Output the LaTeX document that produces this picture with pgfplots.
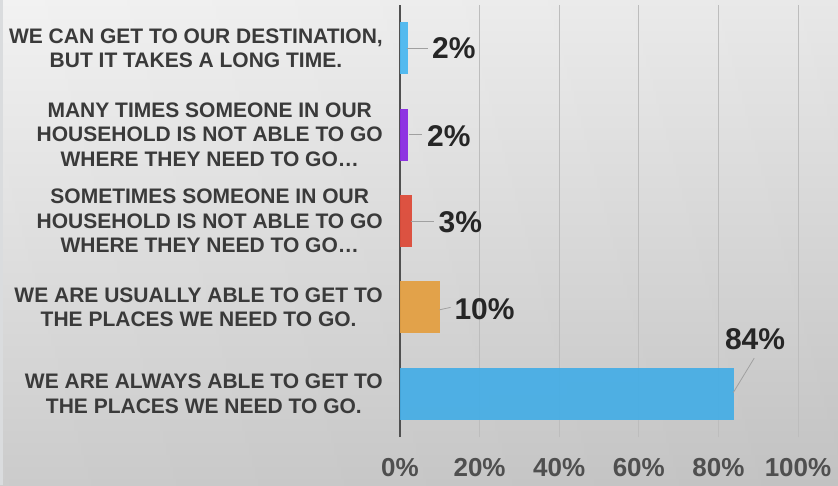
\documentclass[border=0pt]{standalone}
\usepackage{pgfplots}
\pgfplotsset{compat=1.18}
\usepackage{fontspec}
\setmainfont{Liberation Sans}
\definecolor{bgtop}{HTML}{F2F2F2}
\definecolor{bgbot}{HTML}{CACACA}
\definecolor{stripc}{HTML}{DADCDE}
\definecolor{gridc}{HTML}{BDBDBD}
\definecolor{axisc}{HTML}{505050}
\definecolor{catc}{HTML}{3A3A3A}
\definecolor{valc}{HTML}{262626}
\definecolor{tickc}{HTML}{4F4F4F}
\definecolor{leadc}{HTML}{A0A0A0}
\definecolor{cblue}{HTML}{44ADE6}
\definecolor{cblue2}{HTML}{4CB8F0}
\definecolor{corange}{HTML}{E3A043}
\definecolor{cred}{HTML}{DD4B39}
\definecolor{cpurple}{HTML}{8A2BE2}
\begin{document}
\begin{tikzpicture}
\useasboundingbox (0,0) rectangle (838pt,485pt);
\shade[top color=bgtop, bottom color=bgbot] (0,0) rectangle (838pt,485pt);
\shade[left color=white, right color=black, fill opacity=0.04] (0,0) rectangle (838pt,485pt);
\fill[stripc] (0,0) rectangle (3pt,485pt);
\begin{axis}[
  at={(400pt,48pt)}, anchor=south west,
  scale only axis, width=398pt, height=432pt,
  xmin=0, xmax=100, ymin=-0.5, ymax=4.5,
  enlargelimits=false, clip=false,
  xbar, bar width=52pt, bar shift=0pt,
  axis x line*=bottom, axis y line*=left,
  x axis line style={draw=none},
  y axis line style={draw=axisc, line width=1.6pt, -},
  major tick length=0pt,
  xmajorgrids, grid style={draw=gridc, line width=0.8pt},
  xtick={0,20,40,60,80,100},
  xticklabels={0\%,20\%,40\%,60\%,80\%,100\%},
  /pgf/number format/assume math mode=true,
  xticklabel style={font=\fontsize{26}{26}\selectfont\bfseries, text=tickc, anchor=north, inner sep=0pt, yshift=-21pt},
  ytick={0,1,2,3,4},
  yticklabels={
    {WE ARE ALWAYS ABLE TO GET TO\\THE PLACES WE NEED TO GO.},
    {WE ARE USUALLY ABLE TO GET TO\\THE PLACES WE NEED TO GO.},
    {SOMETIMES SOMEONE IN OUR\\HOUSEHOLD IS NOT ABLE TO GO\\WHERE THEY NEED TO GO\dots},
    {MANY TIMES SOMEONE IN OUR\\HOUSEHOLD IS NOT ABLE TO GO\\WHERE THEY NEED TO GO\dots},
    {WE CAN GET TO OUR DESTINATION,\\BUT IT TAKES A LONG TIME.}},
  yticklabel style={font=\fontsize{21}{24.5}\selectfont\bfseries, text=catc, align=center, anchor=east, inner sep=0pt, xshift=-17pt},
  point meta=x,
  nodes near coords={\pgfmathprintnumber{\pgfplotspointmeta}\%},
  every node near coord/.style={font=\fontsize{30}{30}\selectfont\bfseries, text=valc, inner sep=0pt, anchor=west, fill opacity=1, text opacity=1},
]
\addplot[fill=cblue, draw=none, fill opacity=0.92,
  every node near coord/.append style={anchor=center, xshift=20.7pt, yshift=55pt}]
  coordinates {(84,0)};
\addplot[fill=corange, draw=none, fill opacity=0.95,
  every node near coord/.append style={xshift=14.5pt, yshift=-1.5pt}]
  coordinates {(10,1)};
\addplot[fill=cred, draw=none, fill opacity=0.95,
  every node near coord/.append style={xshift=26.5pt, yshift=-1.5pt}]
  coordinates {(3,2)};
\addplot[fill=cpurple, draw=none, fill opacity=0.95,
  every node near coord/.append style={xshift=19pt, yshift=-1.5pt}]
  coordinates {(2,3)};
\addplot[fill=cblue2, draw=none, fill opacity=0.95,
  every node near coord/.append style={xshift=24pt, yshift=0pt}]
  coordinates {(2,4)};
\draw[leadc, line width=0.8pt] (axis cs:1.7,4) -- (axis cs:6.95,4);
\draw[leadc, line width=0.8pt] (axis cs:2.35,3) -- (axis cs:5.45,3);
\draw[leadc, line width=0.8pt] (axis cs:2.7,2) -- (axis cs:8.54,2);
\draw[leadc, line width=0.8pt] (axis cs:9.9,0.972) -- (axis cs:12.7,1.0);
\draw[leadc, line width=0.8pt] (axis cs:83.75,0.015) -- (axis cs:89.0,0.413);
\end{axis}
\end{tikzpicture}
\end{document}
